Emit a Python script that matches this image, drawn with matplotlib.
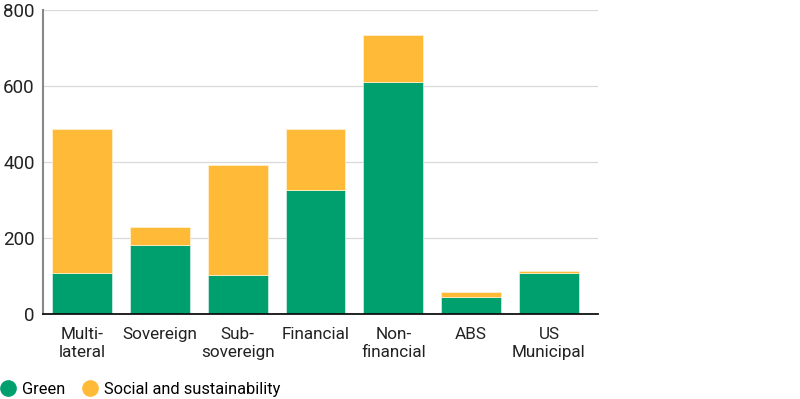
import matplotlib
matplotlib.use("Agg")
import matplotlib.pyplot as plt
from matplotlib.lines import Line2D

categories = ["Multi-\nlateral", "Sovereign", "Sub-\nsovereign", "Financial", "Non-\nfinancial", "ABS", "US\nMunicipal"]
green = [108, 181, 103, 326, 611, 46, 107]
social = [379, 48, 289, 161, 123, 11, 6]
series_names = ["Green", "Social and sustainability"]
yticks = [0, 200, 400, 600, 800]

GREEN = "#00A06E"
ORANGE = "#FFBB38"

plt.rcParams['font.family'] = ['Roboto', 'DejaVu Sans']

fig = plt.figure(figsize=(8, 3.99), dpi=100)
ax = fig.add_axes([0.054, 0.213, 0.6935, 0.762])

x = list(range(len(categories)))
ax.bar(x, green, width=0.77, color=GREEN, edgecolor="#d8efe6", linewidth=0.5, zorder=3)
ax.bar(x, social, bottom=green, width=0.77, color=ORANGE, edgecolor="#fff3d6", linewidth=0.5, zorder=3)

ax.set_xlim(-0.5, 6.63)
ax.set_ylim(0, 800)
ax.set_yticks(yticks)
ax.set_yticklabels([str(v) for v in yticks], fontsize=13.5, color="#222222")
ax.set_xticks(x)
ax.set_xticklabels(categories, fontsize=12.3, color="#222222", linespacing=1.2)
ax.tick_params(axis='both', length=0)
ax.tick_params(axis='x', pad=9.5)
ax.tick_params(axis='y', pad=6)
ax.grid(axis='y', color="#d9d9d9", linewidth=0.9, zorder=0)

for s in ["top", "right"]:
    ax.spines[s].set_visible(False)
ax.spines["left"].set_color("#888888")
ax.spines["left"].set_linewidth(1.5)
ax.spines["bottom"].set_color("#111111")
ax.spines["bottom"].set_linewidth(1.3)
ax.spines["bottom"].set_zorder(4)

handles = [Line2D([], [], marker='o', linestyle='none', markersize=11, color=GREEN),
           Line2D([], [], marker='o', linestyle='none', markersize=11, color=ORANGE)]
fig.legend(handles, series_names, loc='center left', bbox_to_anchor=(0.0, 0.025), ncol=2,
           frameon=False, fontsize=11.8, handletextpad=0.35, columnspacing=1.0, handlelength=1.0,
           borderpad=0, borderaxespad=0)

fig.savefig("out.png", dpi=100)
